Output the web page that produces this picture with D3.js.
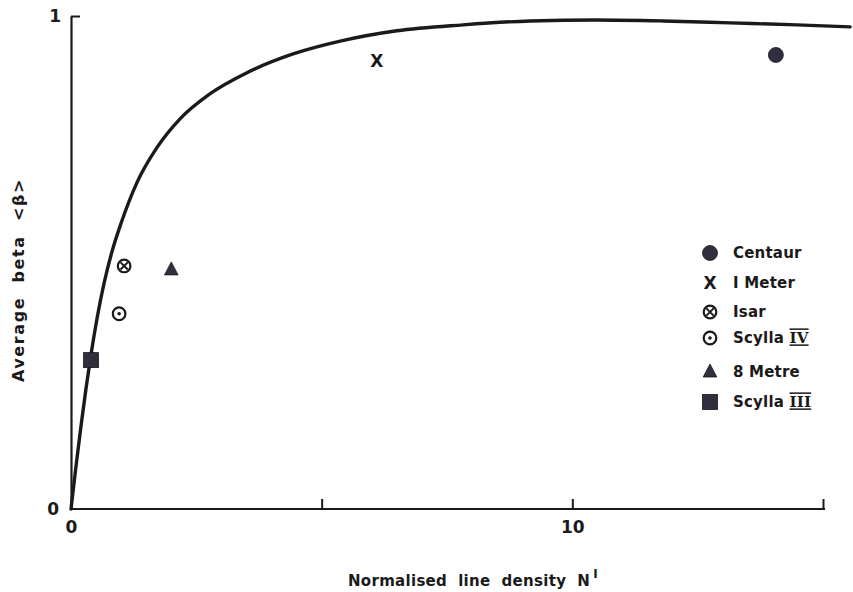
<!DOCTYPE html>
<html>
<head>
<meta charset="utf-8">
<script src="https://cdn.jsdelivr.net/npm/d3@7"></script>
<style>
  html, body { margin: 0; padding: 0; background: #fff; }
  svg text { font-family: "DejaVu Sans", sans-serif; font-weight: bold; fill: #1a1a1a; }
</style>
</head>
<body>
<svg id="chart" width="853" height="592"></svg>
<script>
// ---- data ----
const curveX = [0, 0.10, 0.20, 0.30, 0.40, 0.52, 0.66, 0.82, 1.00, 1.32, 1.72, 2.17, 2.77, 3.51, 4.43, 5.37, 6.50, 7.82, 9.16, 10.49, 11.81, 13.15, 14.48, 15.54];
const curveY = [0, 0.087, 0.169, 0.245, 0.314, 0.387, 0.458, 0.523, 0.580, 0.663, 0.734, 0.791, 0.842, 0.885, 0.923, 0.949, 0.970, 0.982, 0.990, 0.992, 0.990, 0.986, 0.982, 0.978];

const devices = ["Centaur", "I Meter", "Isar", "Scylla IV", "8 Metre", "Scylla III"];
const deviceX = [14.06, 6.1, 1.06, 0.96, 2.0, 0.4];
const deviceY = [0.921, 0.909, 0.493, 0.396, 0.485, 0.302];
const deviceMarker = ["circle", "cross", "otimes", "odot", "triangle", "square"];

const xTicks = [0, 5, 10, 15];
const xTickLabels = ["0", "", "10", ""];
const yTicks = [0, 1];
const yTickLabels = ["0", "1"];

// ---- layout ----
const svg = d3.select("#chart");
const ink = "#1a1a1a";
const markFill = "#2f2f3d";

const x = d3.scaleLinear().domain([0, 15]).range([71, 823]);
const y = d3.scaleLinear().domain([0, 1]).range([509, 16]);

// x axis
const xAxis = d3.axisBottom(x)
  .tickValues(xTicks)
  .tickFormat((d, i) => xTickLabels[i])
  .tickSize(-10)
  .tickSizeOuter(0)
  .tickPadding(12);
const gx = svg.append("g").attr("transform", `translate(0,${y(0)})`).call(xAxis);
gx.select(".domain").attr("stroke", ink).attr("stroke-width", 2.2).attr("d", `M${x(0)},0H${x(15) + 2}`);
gx.selectAll(".tick line").attr("stroke", ink).attr("stroke-width", 2);
gx.selectAll(".tick").filter(d => d === 0).select("line").remove();
gx.selectAll(".tick text").attr("font-size", 17).attr("fill", ink)
  .style("font-family", "'DejaVu Sans'").style("font-weight", "bold");

// y axis
const yAxis = d3.axisLeft(y)
  .tickValues(yTicks)
  .tickFormat((d, i) => yTickLabels[i])
  .tickSize(-9)
  .tickSizeOuter(0)
  .tickPadding(10);
const gy = svg.append("g").attr("transform", `translate(${x(0)},0)`).call(yAxis);
gy.select(".domain").attr("stroke", ink).attr("stroke-width", 2.2);
gy.selectAll(".tick line").attr("stroke", ink).attr("stroke-width", 2);
gy.selectAll(".tick").filter(d => d === 0).select("line").remove();
gy.selectAll(".tick text").attr("font-size", 17).attr("fill", ink)
  .style("font-family", "'DejaVu Sans'").style("font-weight", "bold");
gy.selectAll(".tick").filter(d => d === 0).select("text").attr("x", -12);

// curve
const curveData = curveX.map((v, i) => [v, curveY[i]]);
svg.append("path")
  .datum(curveData)
  .attr("fill", "none")
  .attr("stroke", ink)
  .attr("stroke-width", 3.4)
  .attr("stroke-linecap", "round")
  .attr("d", d3.line().x(d => x(d[0])).y(d => y(d[1])).curve(d3.curveMonotoneX));

// markers
function drawMarker(g, type) {
  if (type === "circle") {
    g.append("circle").attr("r", 7.5).attr("fill", markFill).attr("stroke", ink).attr("stroke-width", 0.8);
  } else if (type === "cross") {
    g.append("text").text("X").attr("text-anchor", "middle").attr("dy", "0.36em")
      .attr("font-size", 17).attr("fill", ink);
  } else if (type === "otimes") {
    g.append("circle").attr("r", 6.3).attr("fill", "none").attr("stroke", ink).attr("stroke-width", 2.2);
    g.append("path").attr("d", "M-3.6,-3.6L3.6,3.6M-3.6,3.6L3.6,-3.6").attr("stroke", ink).attr("stroke-width", 2);
  } else if (type === "odot") {
    g.append("circle").attr("r", 6.3).attr("fill", "none").attr("stroke", ink).attr("stroke-width", 2.2);
    g.append("circle").attr("r", 1.8).attr("fill", ink);
  } else if (type === "triangle") {
    g.append("path").attr("d", "M0,-8L6.8,5L-6.8,5Z").attr("fill", markFill).attr("stroke", ink).attr("stroke-width", 0.8);
  } else if (type === "square") {
    g.append("rect").attr("x", -7.5).attr("y", -7.5).attr("width", 15).attr("height", 15)
      .attr("fill", markFill).attr("stroke", ink).attr("stroke-width", 0.8);
  }
}

devices.forEach((name, i) => {
  const g = svg.append("g").attr("transform", `translate(${x(deviceX[i])},${y(deviceY[i])})`);
  drawMarker(g, deviceMarker[i]);
});

// legend
const legendRowY = [253, 283, 312, 338, 372, 402];
devices.forEach((name, i) => {
  const g = svg.append("g").attr("transform", `translate(710,${legendRowY[i]})`);
  drawMarker(g, deviceMarker[i]);
  const t = svg.append("text").attr("x", 733).attr("y", legendRowY[i]).attr("dy", "0.36em")
    .attr("font-size", 15).attr("letter-spacing", 0.2);
  const m = name.match(/^(.*) (IV|III)$/);
  if (m) {
    t.append("tspan").text(m[1] + " ");
    t.append("tspan").text(m[2]).style("text-decoration", "underline overline")
      .style("font-family", "'DejaVu Serif'");
  } else {
    t.text(name);
  }
});

// axis titles
const xt = svg.append("text").attr("x", 348).attr("y", 586).attr("font-size", 15).attr("letter-spacing", 0.3);
xt.append("tspan").text("Normalised  line  density  N").style("white-space", "pre");
xt.append("tspan").text("I").attr("font-size", 12).attr("dy", -8).attr("dx", 3);

svg.append("text")
  .attr("transform", "translate(24,280) rotate(-90)")
  .attr("text-anchor", "middle")
  .attr("font-size", 16)
  .attr("letter-spacing", 1.6)
  .style("white-space", "pre")
  .text("Average  beta  <β>");
</script>
</body>
</html>
